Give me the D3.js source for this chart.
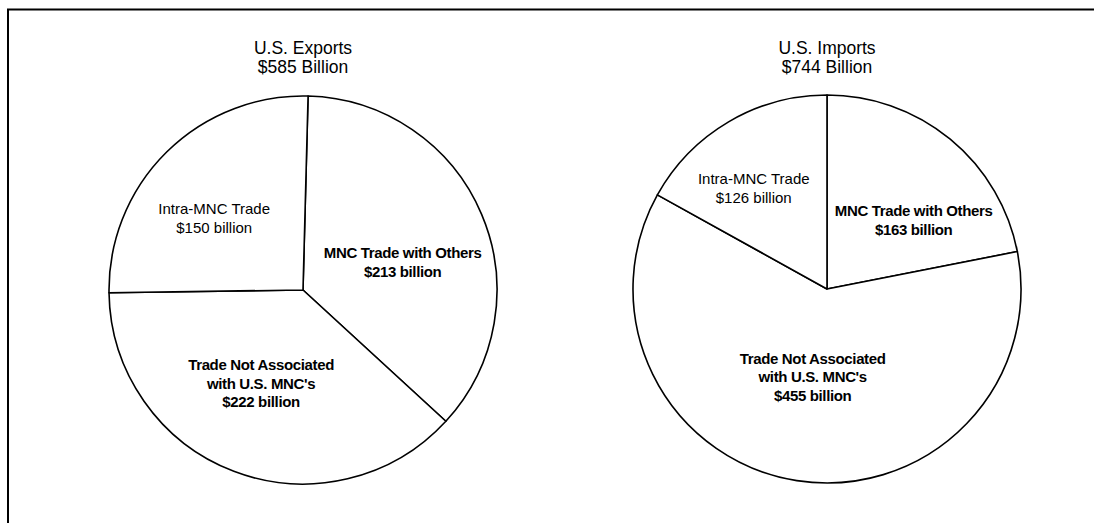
<!DOCTYPE html>
<html>
<head>
<meta charset="utf-8">
<script src="https://cdn.jsdelivr.net/npm/d3@7"></script>
<style>
  body { margin: 0; background: #fff; }
  svg { display: block; }
  text { font-family: "Liberation Sans", Arial, Helvetica, sans-serif; fill: #000; }
</style>
</head>
<body>
<div id="chart"></div>
<script>
// data
var pieTitles = ["U.S. Exports", "U.S. Imports"];
var pieTotals = ["$585 Billion", "$744 Billion"];
var categories = ["MNC Trade with Others", "Trade Not Associated with U.S. MNC's", "Intra-MNC Trade"];
var exportValues = [213, 222, 150];
var importValues = [163, 455, 126];
var sliceLabels = [
  ["MNC Trade with Others"],
  ["Trade Not Associated", "with U.S. MNC's"],
  ["Intra-MNC Trade"]
];
var boldSlice = [true, true, false];

function init() {
  var w = 1094;
  var h = 523;
  var radius = 194;

  // per pie layout
  var pies = [
    { cx: 303, cy: 290, start: 1.5, values: exportValues,
      nudge: [[3, 13], [-4.5, -5], [-15, 3]] },
    { cx: 827, cy: 289, start: 0, values: importValues,
      nudge: [[20, 12], [2, -16], [-20, -10.5]] }
  ];

  var svg = d3.select("#chart")
              .append("svg")
              .attr("width", w)
              .attr("height", h);

  // frame (top and left edges only, as in the scan)
  svg.append("line")
     .attr("x1", 7).attr("y1", 9.5).attr("x2", w).attr("y2", 9.5)
     .attr("stroke", "#000").attr("stroke-width", 2);
  svg.append("line")
     .attr("x1", 8).attr("y1", 9).attr("x2", 8).attr("y2", h)
     .attr("stroke", "#000").attr("stroke-width", 2);

  var arc = d3.arc().innerRadius(0).outerRadius(radius);
  var labelArc = d3.arc().innerRadius(105).outerRadius(105);
  var lineH = 18.5;

  pies.forEach(function(p, pi) {
    var s = p.start * Math.PI / 180;
    var pie = d3.pie().sort(null).startAngle(s).endAngle(s + 2 * Math.PI);
    var arcs = pie(p.values);

    var g = svg.append("g")
               .attr("transform", "translate(" + p.cx + "," + p.cy + ")");

    g.selectAll("path")
     .data(arcs)
     .enter()
     .append("path")
     .attr("d", arc)
     .attr("fill", "#fff")
     .attr("stroke", "#000")
     .attr("stroke-width", 1.6)
     .attr("stroke-linejoin", "round");

    // title
    var t = svg.append("text")
               .attr("x", p.cx)
               .attr("text-anchor", "middle")
               .style("font-size", "17.5px");
    t.append("tspan").attr("x", p.cx).attr("y", 54).text(pieTitles[pi]);
    t.append("tspan").attr("x", p.cx).attr("y", 73).text(pieTotals[pi]);

    // slice labels
    arcs.forEach(function(d, i) {
      var c = labelArc.centroid(d);
      var x = c[0] + p.nudge[i][0];
      var y = c[1] + p.nudge[i][1];
      var lines = sliceLabels[i].concat(["$" + p.values[i] + " billion"]);
      var txt = g.append("text")
                 .attr("text-anchor", "middle")
                 .style("font-size", "15px")
                 .style("font-weight", boldSlice[i] ? "bold" : "normal")
                 .style("letter-spacing", boldSlice[i] ? "-0.35px" : "0px");
      lines.forEach(function(l, k) {
        txt.append("tspan")
           .attr("x", x)
           .attr("y", y + (k - (lines.length - 1) / 2) * lineH + 5.4)
           .text(l);
      });
    });
  });
}

window.onload = init;
</script>
</body>
</html>
